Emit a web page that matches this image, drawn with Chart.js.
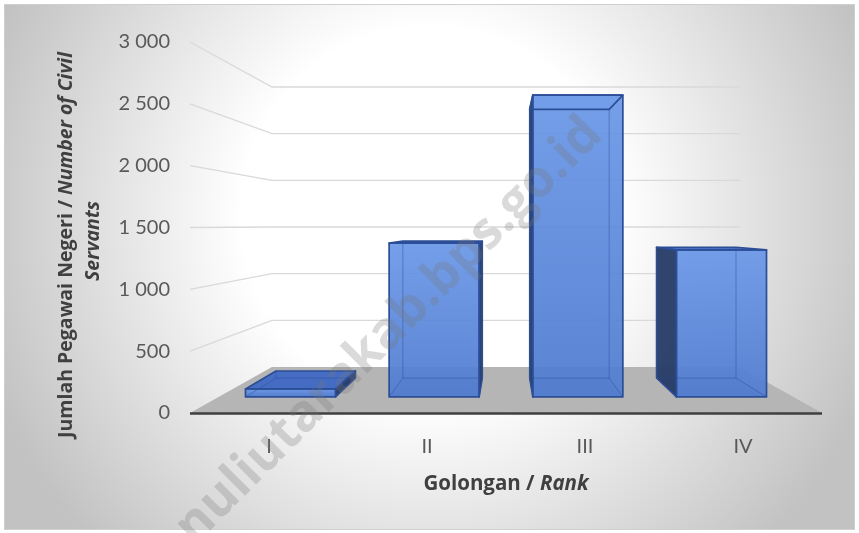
<!DOCTYPE html>
<html>
<head>
<meta charset="utf-8">
<script src="https://cdn.jsdelivr.net/npm/chart.js@4.4.1/dist/chart.umd.min.js"></script>
<style>
  html, body { margin: 0; padding: 0; background: #fff; }
  #wrap { width: 859px; height: 533px; }
</style>
</head>
<body>
<div id="wrap"><canvas id="chart" width="859" height="533"></canvas></div>
<script>
const categories = ['I', 'II', 'III', 'IV']
const pegawai = [70, 1360, 2670, 1300]
const yTickStep = 500
const yMax = 3000
const yTitleBold = 'Jumlah Pegawai Negeri / '
const yTitleItalic = 'Number of Civil'
const yTitleLine2 = 'Servants'
const xTitleBold = 'Golongan / '
const xTitleItalic = 'Rank'
const watermarkText = 'nuliutarakab.bps.go.id'

const FONT = 'Lato, "Open Sans", sans-serif'
const TITLE_FONT = '"Open Sans", "DejaVu Sans", sans-serif'
// depth of the 3D box (how much the back wall shrinks)
const DEPTH_X = 82
const DEPTH_YB = 46
const DEPTH_YT = 45
const BAR_FRONT = 0.35
const BAR_BACK = 0.76

// front plane point -> point at depth t (0 = front, 1 = back wall)
function project(ca, fx, fy, t) {
  const bl = ca.left + DEPTH_X
  const br = ca.right - DEPTH_X
  const bb = ca.bottom - DEPTH_YB
  const bt = ca.top + DEPTH_YT
  const bx = bl + ((fx - ca.left) * (br - bl)) / (ca.right - ca.left)
  const by = bb - ((ca.bottom - fy) * (bb - bt)) / (ca.bottom - ca.top)
  return [fx + (bx - fx) * t, fy + (by - fy) * t]
}

function poly(ctx, pts, fill, stroke, lw) {
  ctx.beginPath()
  ctx.moveTo(pts[0][0], pts[0][1])
  for (let i = 1; i < pts.length; i++) ctx.lineTo(pts[i][0], pts[i][1])
  ctx.closePath()
  if (fill) {
    ctx.fillStyle = fill
    ctx.fill()
  }
  if (stroke) {
    ctx.strokeStyle = stroke
    ctx.lineWidth = lw || 1
    ctx.stroke()
  }
}

const scene3d = {
  id: 'scene3d',
  beforeDraw(chart) {
    const { ctx, chartArea: ca, scales } = chart
    const W = chart.width
    const H = chart.height
    ctx.save()
    ctx.fillStyle = '#ffffff'
    ctx.fillRect(0, 0, W, H)
    const g = ctx.createRadialGradient(430, 215, 0, 430, 215, 470)
    g.addColorStop(0, '#ffffff')
    g.addColorStop(0.4, '#ffffff')
    g.addColorStop(1, '#c2c2c2')
    ctx.fillStyle = g
    ctx.fillRect(5, 5, W - 10, H - 9)
    ctx.strokeStyle = '#cfcfcf'
    ctx.lineWidth = 1
    ctx.strokeRect(4.5, 4.5, W - 9, H - 8)

    // side wall + back wall gridlines
    ctx.strokeStyle = '#d9d9d9'
    ctx.lineWidth = 1.3
    scales.y.ticks.forEach((tk) => {
      if (tk.value === 0) return
      const fy = scales.y.getPixelForValue(tk.value)
      const p1 = project(ca, ca.left, fy, 1)
      const p2 = project(ca, ca.right, fy, 1)
      ctx.beginPath()
      ctx.moveTo(ca.left, fy)
      ctx.lineTo(p1[0], p1[1])
      ctx.lineTo(p2[0], p2[1])
      ctx.stroke()
    })

    // floor
    const y0 = scales.y.getPixelForValue(0)
    poly(ctx, [[ca.left, y0], [ca.right, y0], project(ca, ca.right, y0, 1), project(ca, ca.left, y0, 1)], '#b5b5b5')
    ctx.strokeStyle = '#3f3f3f'
    ctx.lineWidth = 2.6
    ctx.beginPath()
    ctx.moveTo(ca.left, y0 + 0.5)
    ctx.lineTo(ca.right, y0 + 0.5)
    ctx.stroke()
    ctx.restore()
  },
  afterDatasetsDraw(chart) {
    const { ctx, chartArea: ca } = chart
    const meta = chart.getDatasetMeta(0)
    const vx = (ca.left + ca.right) / 2
    ctx.save()
    ctx.lineJoin = 'round'
    meta.data.forEach((el) => {
      const x0 = el.x - el.width / 2
      const x1 = el.x + el.width / 2
      const yt = el.y
      const yb = el.base
      const P = (x, y, t) => project(ca, x, y, t)
      const fbl = P(x0, yb, BAR_FRONT), fbr = P(x1, yb, BAR_FRONT)
      const ftl = P(x0, yt, BAR_FRONT), ftr = P(x1, yt, BAR_FRONT)
      const bbl = P(x0, yb, BAR_BACK), bbr = P(x1, yb, BAR_BACK)
      const btl = P(x0, yt, BAR_BACK), btr = P(x1, yt, BAR_BACK)

      // back + bottom (seen through)
      poly(ctx, [bbl, bbr, btr, btl], 'rgba(75,118,205,0.38)')
      poly(ctx, [fbl, fbr, bbr, bbl], 'rgba(65,105,190,0.5)')
      // side faces
      const leftVisible = el.x > vx
      const outer = leftVisible ? [fbl, bbl, btl, ftl] : [fbr, bbr, btr, ftr]
      const inner = leftVisible ? [fbr, bbr, btr, ftr] : [fbl, bbl, btl, ftl]
      poly(ctx, inner, 'rgba(85,130,212,0.35)')
      // top face
      const topSeen = btl[1] < ftl[1]
      poly(ctx, [ftl, ftr, btr, btl], topSeen ? 'rgba(66,106,195,0.95)' : 'rgba(90,135,218,0.45)')
      poly(ctx, outer, 'rgba(38,58,100,0.93)')
      // front face
      const gr = ctx.createLinearGradient(0, ftl[1], 0, fbl[1])
      gr.addColorStop(0, 'rgba(106,152,232,0.88)')
      gr.addColorStop(1, 'rgba(80,124,207,0.9)')
      poly(ctx, [fbl, fbr, ftr, ftl], gr)

      // hidden edges
      ctx.strokeStyle = 'rgba(40,75,150,0.45)'
      ctx.lineWidth = 1
      ctx.beginPath()
      ;[[bbl, bbr], [bbl, btl], [bbr, btr], [fbl, bbl], [fbr, bbr]].forEach(([a, b]) => {
        ctx.moveTo(a[0], a[1])
        ctx.lineTo(b[0], b[1])
      })
      ctx.stroke()
      // visible edges
      poly(ctx, [fbl, fbr, ftr, ftl], null, '#2b4e96', 1.7)
      poly(ctx, [ftl, ftr, btr, btl], null, '#2b4e96', 1.7)
      poly(ctx, outer, null, '#2b4e96', 1.5)
    })
    ctx.restore()
  },
  afterDraw(chart) {
    const { ctx, chartArea: ca } = chart
    ctx.save()
    ctx.fillStyle = '#404040'
    ctx.textBaseline = 'middle'

    // y axis title, two lines, rotated
    const fb = `bold 19.5px ${TITLE_FONT}`
    const fi = `italic bold 19.5px ${TITLE_FONT}`
    ctx.save()
    ctx.translate(66, 245)
    ctx.rotate(-Math.PI / 2)
    ctx.font = fb
    const w1 = ctx.measureText(yTitleBold).width
    ctx.font = fi
    const w2 = ctx.measureText(yTitleItalic).width
    const sx = -(w1 + w2) / 2
    ctx.textAlign = 'left'
    ctx.font = fb
    ctx.fillText(yTitleBold, sx, 0)
    ctx.font = fi
    ctx.fillText(yTitleItalic, sx + w1, 0)
    ctx.textAlign = 'center'
    ctx.fillText(yTitleLine2, 4, 27)
    ctx.restore()

    // x axis title
    const xb = `bold 20.5px ${TITLE_FONT}`
    const xi = `italic bold 20.5px ${TITLE_FONT}`
    ctx.font = xb
    const a = ctx.measureText(xTitleBold).width
    ctx.font = xi
    const b = ctx.measureText(xTitleItalic).width
    const left = (ca.left + ca.right) / 2 - (a + b) / 2
    ctx.textAlign = 'left'
    ctx.font = xb
    ctx.fillText(xTitleBold, left, 484)
    ctx.font = xi
    ctx.fillText(xTitleItalic, left + a, 484)

    // watermark
    ctx.save()
    ctx.translate(389, 331)
    ctx.rotate((-45 * Math.PI) / 180)
    ctx.font = `bold 40px ${TITLE_FONT}`
    const ww = ctx.measureText(watermarkText).width
    const size = (40 * 580) / ww
    ctx.font = `bold ${size.toFixed(1)}px ${TITLE_FONT}`
    ctx.textAlign = 'center'
    ctx.fillStyle = 'rgba(120,120,120,0.27)'
    ctx.fillText(watermarkText, 0, 0)
    ctx.restore()

    ctx.restore()
  },
}

const canvas = document.getElementById('chart')
new Chart(canvas.getContext('2d'), {
  type: 'bar',
  data: {
    labels: categories,
    datasets: [
      {
        data: pegawai,
        backgroundColor: 'transparent',
        borderWidth: 0,
        barPercentage: 0.627,
        categoryPercentage: 1,
      },
    ],
  },
  options: {
    responsive: false,
    animation: false,
    devicePixelRatio: 1,
    layout: { padding: { top: 42, right: 37, left: 0, bottom: 0 } },
    plugins: { legend: { display: false }, tooltip: { enabled: false } },
    scales: {
      x: {
        grid: { display: false, drawTicks: false },
        border: { display: false },
        ticks: { color: '#595959', font: { family: FONT, size: 20 }, padding: 22 },
        afterFit: (scale) => {
          scale.height = 120
        },
      },
      y: {
        min: 0,
        max: yMax,
        grid: { display: false, drawTicks: false },
        border: { display: false },
        ticks: {
          stepSize: yTickStep,
          color: '#595959',
          font: { family: FONT, size: 20 },
          padding: 20,
          callback: (v) => String(v).replace(/\B(?=(\d{3})+(?!\d))/g, ' '),
        },
        afterFit: (scale) => {
          scale.width = 190
        },
      },
    },
  },
  plugins: [scene3d],
})
</script>
</body>
</html>
